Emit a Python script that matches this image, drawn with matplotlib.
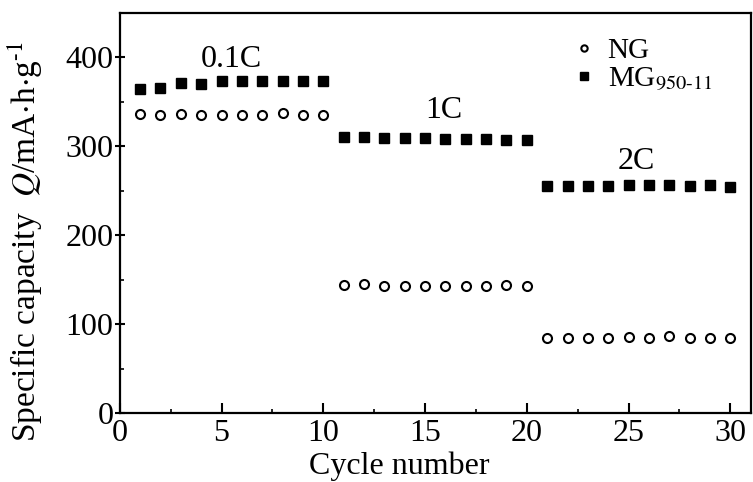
import numpy as np
import matplotlib
matplotlib.use('Agg')
import matplotlib.pyplot as plt
from matplotlib.ticker import MultipleLocator

plt.rcParams['font.family'] = ['Liberation Serif', 'DejaVu Serif']
plt.rcParams['mathtext.fontset'] = 'stix'

''' data read off the figure '''
cycles = np.arange(1, 31)
ng = [336, 335, 336, 335, 335, 335, 335, 337, 335, 335,
      144, 145, 143, 143, 143, 143, 143, 143, 144, 143,
      85, 84, 84, 85, 86, 85, 87, 85, 85, 85]
mg = [365, 366, 371, 370, 373, 373, 373, 374, 374, 374,
      310, 310, 309, 309, 309, 308, 308, 308, 307, 307,
      255, 255, 255, 255, 256, 256, 256, 255, 256, 254]
rate_labels = ['0.1C', '1C', '2C']
rate_pos = [(5.5, 398), (15.9, 340), (25.4, 283)]

fig = plt.figure(figsize=(7.53, 4.82), dpi=100)
ax = fig.add_axes([0.159, 0.143, 0.838, 0.830])

ax.plot(cycles, ng, linestyle='none', marker='o', markersize=6.5,
        markerfacecolor='white', markeredgecolor='black', markeredgewidth=1.5, label='NG')
ax.plot(cycles, mg, linestyle='none', marker='s', markersize=7.5,
        color='black', label=r'MG$_{\mathrm{950}\text{-}\mathrm{11}}$')

for lab, (x, y) in zip(rate_labels, rate_pos):
    ax.text(x, y, lab, ha='center', va='center', fontsize=23)

ax.set_xlim(0, 31)
ax.set_ylim(0, 450)
ax.xaxis.set_major_locator(MultipleLocator(5))
ax.xaxis.set_minor_locator(MultipleLocator(2.5))
ax.yaxis.set_major_locator(MultipleLocator(100))
ax.yaxis.set_minor_locator(MultipleLocator(50))
ax.set_yticks([0, 100, 200, 300, 400])
ax.tick_params(which='both', top=False, right=False, labelsize=23)
ax.tick_params(axis='x', which='both', direction='in', pad=4)
ax.tick_params(axis='y', which='major', direction='inout', pad=1)
ax.tick_params(axis='y', which='minor', direction='in')
ax.tick_params(which='major', length=7, width=1.5)
ax.tick_params(which='minor', length=3, width=1.2)
for sp in ax.spines.values():
    sp.set_linewidth(1.6)

ax.set_xlabel('Cycle number', fontsize=23)
ax.xaxis.set_label_coords(0.443, -0.097)
ax.set_ylabel(r'Specific capacity  $Q$/mA$\cdot$h$\cdot$g$^{\text{-1}}$', fontsize=24)
ax.yaxis.set_label_coords(-0.118, 0.43)

ax.legend(loc='upper left', bbox_to_anchor=(0.69, 0.99), frameon=False, fontsize=21,
          markerscale=0.7, handlelength=0.6, handletextpad=0.5, labelspacing=0.05, borderpad=0.2)

fig.savefig('out.png', dpi=100)
